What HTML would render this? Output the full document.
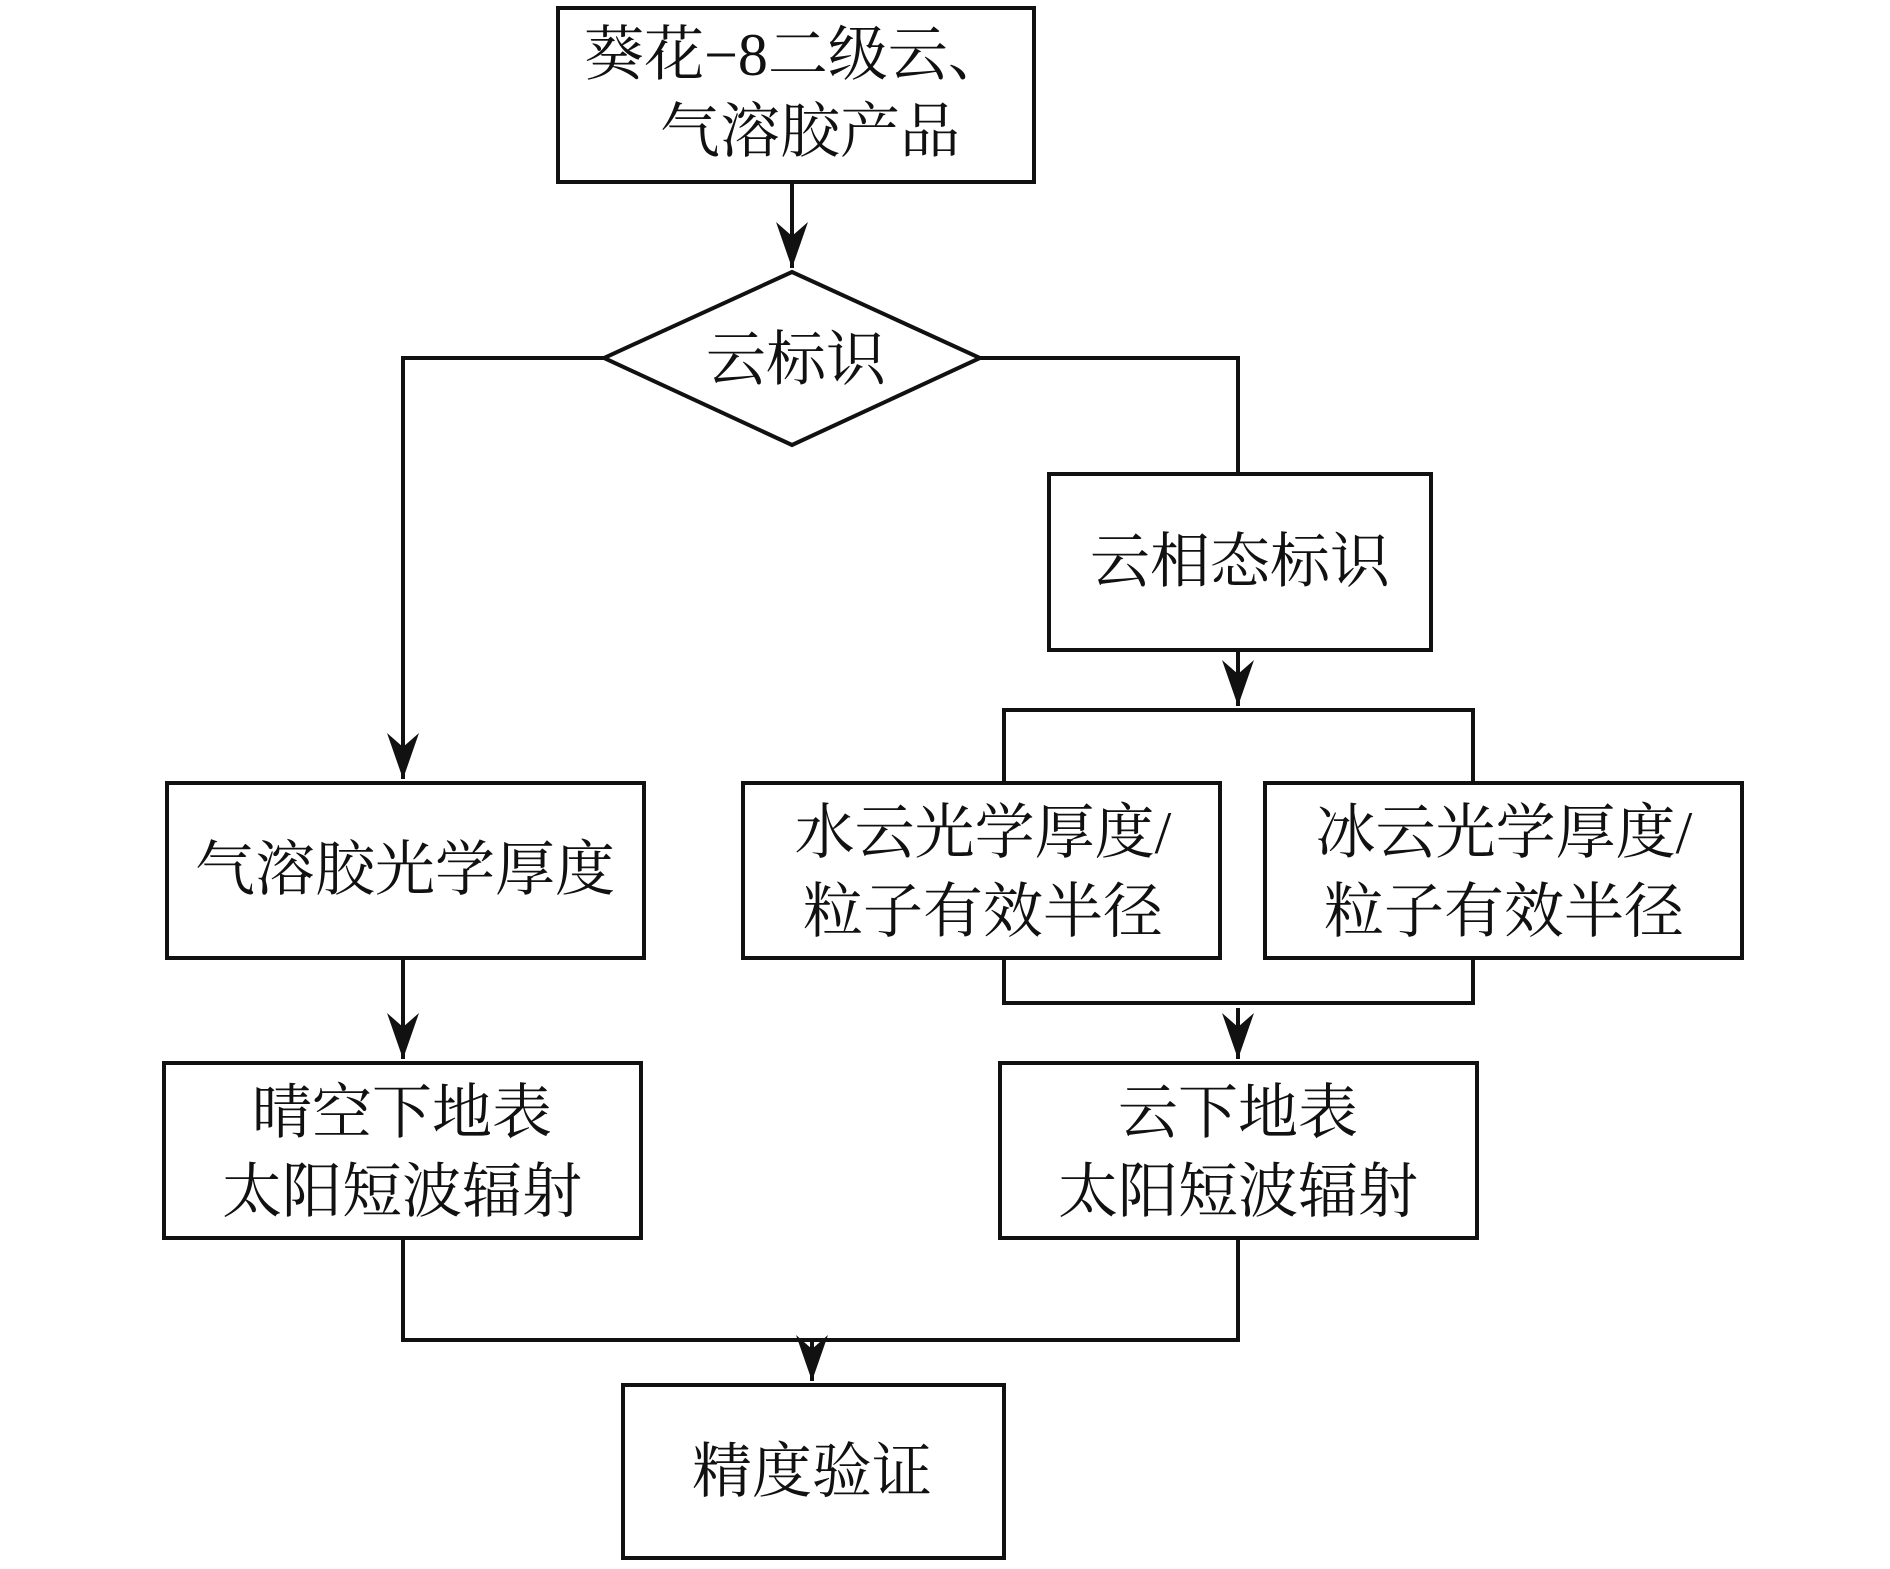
<!DOCTYPE html>
<html><head><meta charset="utf-8"><style>
html,body{margin:0;padding:0;background:#fff}
svg text{font-family:"Liberation Serif","Noto Serif CJK SC",serif;font-size:60px;fill:#111;text-anchor:middle}
</style></head><body>
<svg width="1890" height="1564" viewBox="0 0 1890 1564" xmlns="http://www.w3.org/2000/svg">
<defs><marker id="a" markerWidth="36" markerHeight="48" refX="16" refY="46" orient="0" markerUnits="userSpaceOnUse"><path d="M0,0 L16,14 L32,0 L16,46 Z" fill="#111"/></marker></defs>
<g fill="none" stroke="#111" stroke-width="4">
<rect x="558" y="8" width="476" height="174"/>
<polygon points="792,272 980,358 792,445 604,358"/>
<rect x="1049" y="474" width="382" height="176"/>
<rect x="167" y="783" width="477" height="175"/>
<rect x="743" y="783" width="477" height="175"/>
<rect x="1265" y="783" width="477" height="175"/>
<rect x="164" y="1063" width="477" height="175"/>
<rect x="1000" y="1063" width="477" height="175"/>
<rect x="623" y="1385" width="381" height="173"/>
<path d="M792,182 V268" marker-end="url(#a)"/>
<path d="M604,358 H403 V779" marker-end="url(#a)"/>
<path d="M980,358 H1238 V474"/>
<path d="M1238,650 V706" marker-end="url(#a)"/>
<path d="M1004,783 V710 H1473 V783"/>
<path d="M1004,958 V1003 H1473 V958"/>
<path d="M1238,1008 V1059" marker-end="url(#a)"/>
<path d="M403,958 V1059" marker-end="url(#a)"/>
<path d="M403,1238 V1340 H1238 V1238"/>
<path d="M812,1340 V1381" marker-end="url(#a)"/>
</g>
<text x="796" y="75">葵花−8二级云、</text>
<text x="810" y="152">气溶胶产品</text>
<text x="796" y="380">云标识</text>
<text x="1240" y="582">云相态标识</text>
<text x="405" y="890">气溶胶光学厚度</text>
<text x="983" y="853">水云光学厚度/</text>
<text x="983" y="932">粒子有效半径</text>
<text x="1504" y="853">冰云光学厚度/</text>
<text x="1504" y="932">粒子有效半径</text>
<text x="402" y="1133">晴空下地表</text>
<text x="402" y="1212">太阳短波辐射</text>
<text x="1238" y="1133">云下地表</text>
<text x="1238" y="1212">太阳短波辐射</text>
<text x="812" y="1492">精度验证</text>
</svg>
</body></html>
